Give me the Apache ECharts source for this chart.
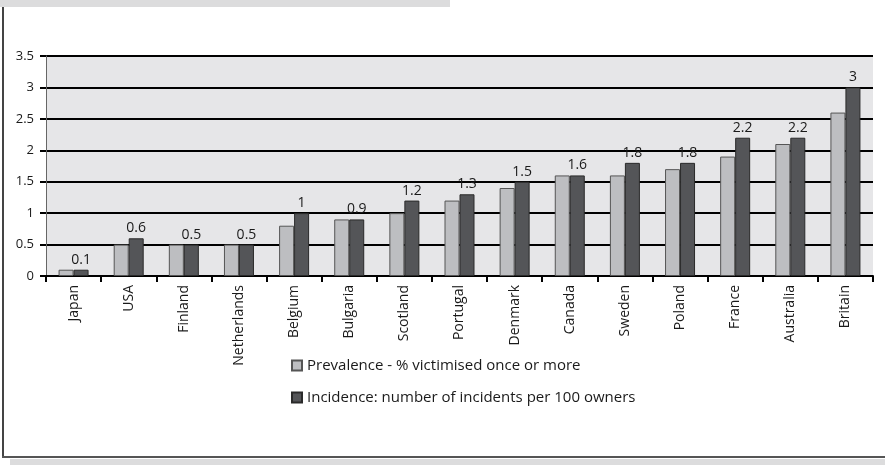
<!DOCTYPE html>
<html><head><meta charset="utf-8">
<script src="https://cdn.jsdelivr.net/npm/echarts@6/dist/echarts.min.js"></script>
<style>html,body{margin:0;padding:0;background:#fff}#c{width:885px;height:465px}</style>
</head><body><div id="c"></div>
<script>
const categories = ["Japan","USA","Finland","Netherlands","Belgium","Bulgaria","Scotland","Portugal","Denmark","Canada","Sweden","Poland","France","Australia","Britain"];
const prevalence = [0.1,0.5,0.5,0.5,0.8,0.9,1.0,1.2,1.4,1.6,1.6,1.7,1.9,2.1,2.6];
const incidence = [0.1,0.6,0.5,0.5,1,0.9,1.2,1.3,1.5,1.6,1.8,1.8,2.2,2.2,3];
const seriesNames = ["Prevalence - % victimised once or more","Incidence: number of incidents per 100 owners"];
const yTicks = {min:0,max:3.5,interval:0.5};

const font = "'Open Sans', 'Noto Sans', sans-serif";
const chart = echarts.init(document.getElementById('c'), null, {renderer:'canvas'});
chart.setOption({
  backgroundColor:'#fff',
  animation:false,
  textStyle:{fontFamily:font},
  graphic:[
    {type:'rect',shape:{x:0,y:0,width:450,height:7},style:{fill:'#dcdcdd'},silent:true},
    {type:'rect',shape:{x:10,y:459,width:875,height:6},style:{fill:'#dcdcdd'},silent:true},
    {type:'line',shape:{x1:3,y1:7,x2:3,y2:457},style:{stroke:'#444',lineWidth:2},silent:true},
    {type:'line',shape:{x1:2,y1:457,x2:885,y2:457},style:{stroke:'#555',lineWidth:2},silent:true}
  ],
  grid:{left:46,right:12,top:56,bottom:189,show:true,backgroundColor:'#e6e6e8',borderWidth:0},
  legend:{
    orient:'vertical',left:286,top:353,itemWidth:10,itemHeight:10,itemGap:17,
    icon:'rect',
    textStyle:{fontFamily:font,fontSize:15,color:'#1a1a1a'},
    data:seriesNames
  },
  xAxis:{
    type:'category',data:categories,
    axisLine:{lineStyle:{color:'#000',width:2}},
    axisTick:{show:true,length:6,lineStyle:{color:'#000',width:2},alignWithLabel:false},
    axisLabel:{rotate:90,fontSize:14,color:'#1a1a1a',margin:9,fontFamily:font,interval:0},
    splitLine:{show:false}
  },
  yAxis:{
    type:'value',min:yTicks.min,max:yTicks.max,interval:yTicks.interval,
    axisLine:{show:true,lineStyle:{color:'#666',width:1}},
    axisTick:{show:true,length:6,lineStyle:{color:'#000',width:2}},
    axisLabel:{fontSize:13,color:'#1a1a1a',margin:12,fontFamily:font},
    splitLine:{show:true,lineStyle:{color:'#000',width:2}}
  },
  series:[
    {name:seriesNames[0],type:'bar',data:prevalence,barWidth:15,barGap:'0%',
     itemStyle:{color:'#bdbec1',borderColor:'#555',borderWidth:1}},
    {name:seriesNames[1],type:'bar',data:incidence,barWidth:15,
     itemStyle:{color:'#545558',borderColor:'#2a2a2a',borderWidth:1},
     label:{show:true,position:'top',distance:3,fontSize:14,color:'#1a1a1a',fontFamily:font}}
  ]
});
</script></body></html>
